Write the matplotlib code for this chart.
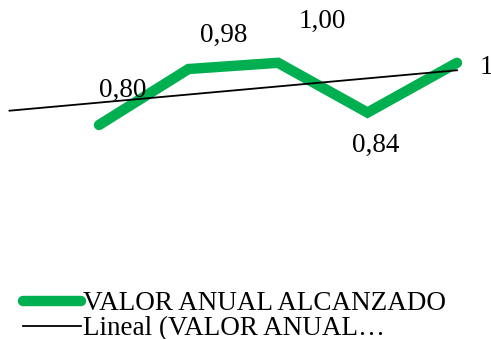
import matplotlib.pyplot as plt
import numpy as np

plt.rcParams['font.family'] = ['Liberation Serif', 'DejaVu Serif']

periods = [1, 2, 3, 4, 5]
valores = [0.80, 0.98, 1.00, 0.84, 1.00]
etiquetas = ["0,80", "0,98", "1,00", "0,84", "1,00"]
# label offsets in pixels (text centre relative to point)
offsets = [(24, 35), (35, 34), (44, 41), (8, -33), (46, -5)]

GREEN = "#00B050"

fig = plt.figure(figsize=(4.91, 3.39), dpi=100)
ax = fig.add_axes([0, 0, 1, 1])

ax.plot(periods, valores, color=GREEN, linewidth=7.5, solid_capstyle="round",
        solid_joinstyle="miter", label="VALOR ANUAL ALCANZADO", zorder=2)

# linear trend, extended one period backwards like Excel's trendline
coef = np.polyfit(periods, valores, 1)
xt = np.array([0, 5])
ax.plot(xt, np.polyval(coef, xt), color="black", linewidth=1.3,
        label="Lineal (VALOR ANUAL\u2026", zorder=3)

for x, v, t, off in zip(periods, valores, etiquetas, offsets):
    ax.annotate(t, (x, v), xytext=off, textcoords="offset pixels",
                ha="center", va="center", fontsize=19.5, annotation_clip=False)

# pixel mapping: category 1 at x=99, 89.5 px per category; 0.80 at y=125, 311 px per unit
x0 = 99 - 89.5
ax.set_xlim((0 - x0) / 89.5, (491 - x0) / 89.5)
ax.set_ylim(0.80 - (339 - 125) / 311, 0.80 + 125 / 311)
ax.axis("off")

leg = ax.legend(loc="upper left", bbox_to_anchor=(23 / 491, 1 - 291 / 339),
                frameon=False, fontsize=19.5, handlelength=2.15, handletextpad=0.05,
                labelspacing=0.0, borderaxespad=0, borderpad=0)

fig.savefig("out.png", dpi=100)
